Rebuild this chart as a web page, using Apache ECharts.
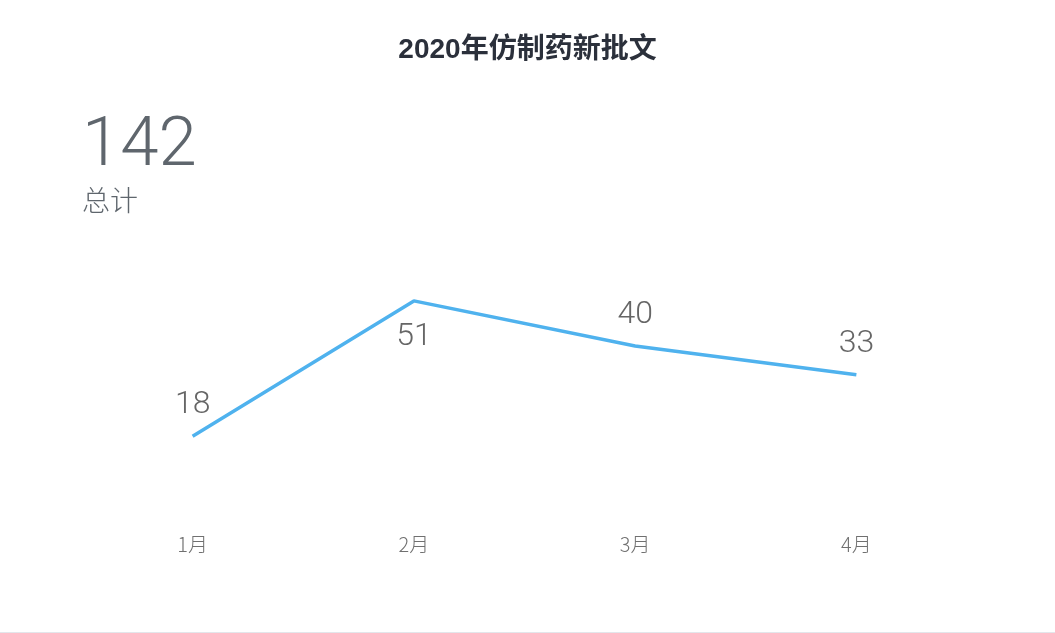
<!DOCTYPE html>
<html><head><meta charset="utf-8">
<script src="https://cdn.jsdelivr.net/npm/echarts@6/dist/echarts.min.js"></script>
<style>
html,body{margin:0;padding:0;background:#fff;}
#c{width:1055px;height:632px;border-bottom:1px solid #e3e6eb;}
</style></head>
<body><div id="c"></div>
<script>
const titleText = '2020年仿制药新批文';
const totalLabel = '总计';
const categories = ['1月', '2月', '3月', '4月'];
const values = [18, 51, 40, 33];

const total = values.reduce((a, b) => a + b, 0);
const maxV = Math.max(...values);
const chart = echarts.init(document.getElementById('c'));
chart.setOption({
  animation: false,
  title: [
    { text: titleText, left: 'center', top: 31,
      textStyle: { fontSize: 28, fontWeight: 'bold', color: '#2b303b', fontFamily: 'Liberation Sans, Noto Sans CJK SC' } },
    { text: String(total), subtext: totalLabel, left: 77, top: 108, itemGap: 8,
      textStyle: { fontSize: 69, fontWeight: 300, color: '#5f666d', fontFamily: 'Roboto, Noto Sans CJK SC' },
      subtextStyle: { fontSize: 28, fontWeight: 300, color: '#5f666d', fontFamily: 'Roboto, Noto Sans CJK SC' } }
  ],
  grid: { left: 82, right: 88, top: 264, bottom: 122 },
  xAxis: {
    type: 'category', data: categories, boundaryGap: true,
    axisLine: { show: false }, axisTick: { show: false },
    axisLabel: { margin: 24, fontSize: 20, color: '#707070', fontFamily: 'Noto Sans CJK SC', fontWeight: 300 }
  },
  yAxis: { type: 'value', min: 0, max: 60, show: false, splitLine: { show: false } },
  series: [{
    type: 'line',
    data: values.map(v => ({ value: v, label: v === maxV ? { position: 'bottom', distance: 20 } : { position: 'top', distance: 15 } })),
    symbol: 'circle', symbolSize: 0.1, showSymbol: true,
    lineStyle: { color: '#4fb2ee', width: 3.5 },
    itemStyle: { color: '#4fb2ee' },
    label: { show: true, fontSize: 32, fontWeight: 300, color: '#666', fontFamily: 'Roboto' }
  }]
});
</script></body></html>
